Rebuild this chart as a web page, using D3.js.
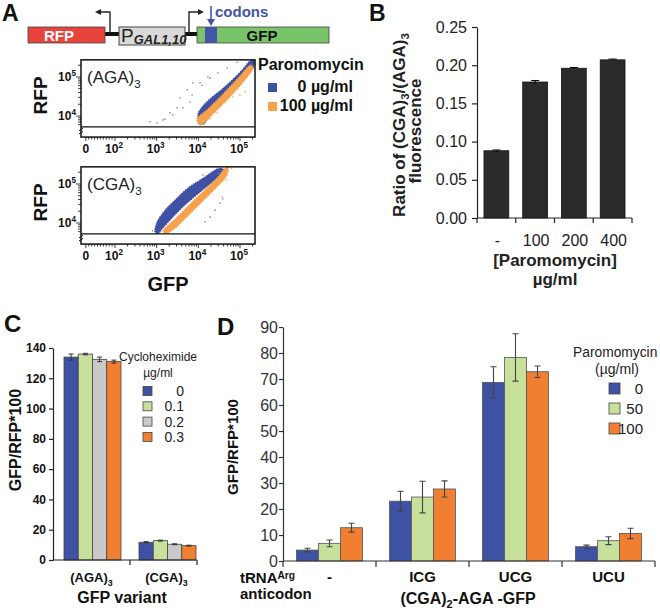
<!DOCTYPE html>
<html><head><meta charset="utf-8">
<script src="https://cdn.jsdelivr.net/npm/d3@7/dist/d3.min.js"></script>
<style>
body{margin:0;background:#fff}
svg{display:block}
text{font-family:"Liberation Sans",Arial,Helvetica,sans-serif}
</style>
</head><body>
<svg id="c" width="660" height="610"></svg>
<script>
// ================= DATA =================
// Panel A flow cytometry: axes are log10 display units (GFP on x, RFP on y)
const flowXTicks = [{v:1.3,base:"0",exp:""},{v:2,base:"10",exp:"2"},{v:3,base:"10",exp:"3"},{v:4,base:"10",exp:"4"},{v:5,base:"10",exp:"5"}];
const flowYTicks = [{v:4,base:"10",exp:"4"},{v:5,base:"10",exp:"5"}];
const flowLegend = ["0 µg/ml","100 µg/ml"];
// density clouds (outline of the dense region) and sparse events
const agaBlueCloud = [[4.02,3.79],[3.99,4.05],[4.11,4.26],[4.33,4.49],[4.57,4.69],[4.81,4.92],[5.05,5.18],[5.24,5.41],[5.34,5.44],[5.34,5.28],[5.00,4.87],[4.64,4.41],[4.28,4.00],[4.11,3.79]];
const agaOrangeCloud = [[4.04,3.77],[4.40,4.10],[4.76,4.49],[5.12,4.92],[5.31,5.23],[5.26,5.31],[4.95,4.97],[4.57,4.54],[4.23,4.18],[3.97,3.92]];
const agaBlueDots = [[2.84,3.85],[3.01,3.82],[3.15,3.90],[3.20,3.92],[3.32,4.08],[3.39,4.03],[3.49,4.21],[3.56,4.46],[3.63,4.21],[3.73,4.67],[3.80,4.36],[3.85,4.54],[3.87,4.85],[4.04,4.85],[4.09,4.79],[4.23,5.00],[4.28,4.97],[4.47,5.10],[4.69,5.23],[4.93,5.38]];
const agaOrangeDots = [[4.23,3.95],[4.28,3.92],[4.45,4.08],[4.83,4.49],[5.00,4.54],[5.12,4.62],[4.16,3.79]];
const cgaBlueCloud = [[2.96,3.77],[3.01,4.03],[3.20,4.33],[3.44,4.59],[3.75,4.90],[4.04,5.10],[4.33,5.31],[4.52,5.41],[4.62,5.36],[4.40,5.10],[4.04,4.79],[3.68,4.46],[3.37,4.13],[3.15,3.87],[3.03,3.72]];
const cgaOrangeCloud = [[3.15,3.79],[3.44,4.10],[3.80,4.49],[4.16,4.85],[4.47,5.18],[4.62,5.38],[4.71,5.44],[4.69,5.23],[4.38,4.85],[4.04,4.49],[3.70,4.13],[3.39,3.82],[3.20,3.72]];
const cgaBlueDots = [[4.16,4.03],[4.28,4.15],[4.40,4.33],[4.52,4.51],[4.59,4.62],[4.11,5.23],[4.33,5.31],[4.47,5.28],[2.90,3.80],[3.05,3.75]];
const cgaOrangeDots = [[4.69,5.10],[4.57,4.67],[4.80,5.40]];

// Panel B
const bCategories = ["-","100","200","400"];
const bValues = [0.088,0.178,0.196,0.207];
const bErrors = [0.001,0.002,0.001,0.001];
const bTicks = [0,0.05,0.10,0.15,0.20,0.25];

// Panel C
const cCategories = ["(AGA)","(CGA)"];
const cSeries = ["0","0.1","0.2","0.3"];
const cValues = [[134,136,132.5,131],[11.7,12.8,10.4,9.5]];
const cErrors = [[2,0.5,1.5,1],[0.4,0.3,0.3,0.3]];
const cTicks = [0,20,40,60,80,100,120,140];

// Panel D
const dCategories = ["-","ICG","UCG","UCU"];
const dSeries = ["0","50","100"];
const dValues = [[4.2,6.8,12.8],[23.0,24.6,27.7],[68.7,78.3,72.8],[5.5,7.8,10.6]];
const dErrors = [[0.7,1.3,1.7],[3.8,6.1,3.1],[6.0,9.1,2.2],[0.6,1.5,2.0]];
const dTicks = [0,10,20,30,40,50,60,70,80,90];

// ================= STYLE =================
const BLUE="#3f51a3", ORANGE_L="#f6a24c", GREEN_L="#c7e09c", GRAY_L="#c9c9c9", ORANGE="#f07f32";
const svg = d3.select("#c");

function txt(g, x, y, parts, o={}) {
  const size=o.size||12;
  const t=g.append("text").attr("x",x).attr("y",y)
    .attr("font-size",size).attr("font-weight",o.weight||"normal")
    .attr("font-style",o.style||"normal")
    .attr("text-anchor",o.anchor||"start").attr("fill",o.fill||"#111");
  if(o.rotate) t.attr("transform",`rotate(${o.rotate},${x},${y})`);
  if(typeof parts==="string") parts=[[parts]];
  let shift=0;
  const subK=o.subK||0.32, supK=o.supK||0.42;
  parts.forEach(p=>{
    const [s,kind,extra]=p;
    const ts=t.append("tspan").text(s);
    const target = kind==="sub"? size*subK : kind==="sup"? -size*supK : 0;
    const dy=target-shift; shift=target;
    if(dy) ts.attr("dy",dy);
    if(kind) ts.attr("font-size",size*0.68);
    if(extra) for(const k in extra) ts.attr(k,extra[k]);
  });
  return t;
}

// ================= PANEL A: construct =================
const gA=svg.append("g");
txt(gA,2,21,"A",{size:23,weight:"bold"});
gA.append("rect").attr("x",104).attr("y",32).attr("width",16).attr("height",4).attr("fill","#111");
gA.append("rect").attr("x",184).attr("y",32).attr("width",14).attr("height",4).attr("fill","#111");
gA.append("rect").attr("x",28).attr("y",27).attr("width",77).attr("height",16).attr("fill","#e8443c").attr("stroke","#444").attr("stroke-width",0.8);
txt(gA,59,40.5,"RFP",{size:15,weight:"bold",anchor:"middle",fill:"#fff"});
gA.append("rect").attr("x",119).attr("y",27).attr("width",66).attr("height",18).attr("fill","#d9d9d9").attr("stroke","#444").attr("stroke-width",1);
txt(gA,121,42,[["P"],["GAL1,10","sub",{"font-style":"italic","font-weight":"bold","font-size":13}]],{size:19,fill:"#222",subK:0.12});
gA.append("rect").attr("x",197).attr("y",27).attr("width",132).attr("height",16).attr("fill","#79c468").attr("stroke","#444").attr("stroke-width",0.8);
gA.append("rect").attr("x",205).attr("y",27).attr("width",12).attr("height",16).attr("fill","#4355a8");
txt(gA,262,40.5,"GFP",{size:15,weight:"bold",anchor:"middle",fill:"#111"});
gA.append("path").attr("d","M110,33V12H100").attr("fill","none").attr("stroke","#222").attr("stroke-width",1.4);
gA.append("path").attr("d","M95,12L101,9L101,15Z").attr("fill","#222");
gA.append("path").attr("d","M189,33V12H199").attr("fill","none").attr("stroke","#222").attr("stroke-width",1.4);
gA.append("path").attr("d","M204,12L198,9L198,15Z").attr("fill","#222");
gA.append("path").attr("d","M211,6V21").attr("stroke","#4355a8").attr("stroke-width",1.6);
gA.append("path").attr("d","M211,26L207,19L215,19Z").attr("fill","#4355a8");
txt(gA,215,17,"codons",{size:15,weight:"bold",fill:"#4355a8"});

// ================= PANEL A: flow plots =================
const xF=d3.scaleLinear().domain([2,5]).range([115,240]);
const yF=d3.scaleLinear().domain([4,5]).range([116,77]);
const fBox={u0:1.184,u1:5.36,vTop:5.44,vLine:3.72,vBot:3.46};

function flowPlot(offY,title,blue,orange,bDots,oDots){
  const g=svg.append("g").attr("transform",`translate(0,${offY})`);
  const x0=xF(fBox.u0),x1=xF(fBox.u1),yT=yF(fBox.vTop),yL=yF(fBox.vLine),yB=yF(fBox.vBot);
  const cid="clip"+offY;
  g.append("clipPath").attr("id",cid).append("rect").attr("x",x0).attr("y",yT).attr("width",x1-x0).attr("height",yL-yT);
  const pg=g.append("g").attr("clip-path",`url(#${cid})`);
  const ln=d3.line().x(d=>xF(d[0])).y(d=>yF(d[1])).curve(d3.curveCatmullRomClosed.alpha(0.5));
  pg.append("path").attr("d",ln(blue)).attr("fill",BLUE).attr("stroke",BLUE).attr("stroke-width",1.2).attr("stroke-dasharray","1 1.5");
  pg.append("path").attr("d",ln(orange)).attr("fill",ORANGE_L).attr("stroke",ORANGE_L).attr("stroke-width",1.2).attr("stroke-dasharray","1 1.5");
  pg.selectAll("circle.b").data(bDots).join("circle").attr("cx",d=>xF(d[0])).attr("cy",d=>yF(d[1])).attr("r",0.8).attr("fill","#6a78c0");
  pg.selectAll("circle.o").data(oDots).join("circle").attr("cx",d=>xF(d[0])).attr("cy",d=>yF(d[1])).attr("r",0.8).attr("fill",ORANGE_L);
  g.append("rect").attr("x",x0).attr("y",yT).attr("width",x1-x0).attr("height",yB-yT).attr("fill","none").attr("stroke","#111").attr("stroke-width",1.5);
  g.append("line").attr("x1",x0).attr("x2",x1).attr("y1",yL).attr("y2",yL).attr("stroke","#111").attr("stroke-width",1.3);
  g.append("path").attr("d",`M${x0-2},${yL+4}l4,-2.5M${x0-2},${yL+7}l4,-2.5`).attr("stroke","#111").attr("stroke-width",1);
  const yt=[];
  for(let d=3;d<=5;d++) for(let k=1;k<=9;k++){const v=d+Math.log10(k); if(v>fBox.vLine && v<fBox.vTop) yt.push({v,major:k===1});}
  g.selectAll("line.yt").data(yt).join("line").attr("x1",d=>x0-(d.major?5:3)).attr("x2",x0).attr("y1",d=>yF(d.v)).attr("y2",d=>yF(d.v)).attr("stroke","#111").attr("stroke-width",0.8);
  flowYTicks.forEach(t=>txt(g,76,yF(t.v)+4,[[t.base],[t.exp,"sup"]],{size:12,weight:"bold",anchor:"end"}));
  const xt=[{v:1.3,major:true}];
  for(let k=1;k<=9;k++) xt.push({v:1.3+0.7*k/10,major:false});
  for(let d=2;d<=5;d++) for(let k=1;k<=9;k++){const v=d+Math.log10(k); if(v<fBox.u1) xt.push({v,major:k===1});}
  g.selectAll("line.xt").data(xt).join("line").attr("x1",d=>xF(d.v)).attr("x2",d=>xF(d.v)).attr("y1",yB).attr("y2",d=>yB+(d.major?4:2.5)).attr("stroke","#111").attr("stroke-width",0.8);
  flowXTicks.forEach(t=>txt(g,xF(t.v)+(t.exp?-1:0),yB+16,t.exp?[[t.base],[t.exp,"sup"]]:t.base,{size:12,weight:"bold",anchor:"middle"}));
  txt(g,87,yT+23,[[title[0]],[title[1],"sub"]],{size:17,fill:"#222"});
  txt(g,47,(yT+yL)/2+2,"RFP",{size:19,weight:"bold",anchor:"middle",rotate:-90});
  return g;
}
flowPlot(0,["(AGA)","3"],agaBlueCloud,agaOrangeCloud,agaBlueDots,agaOrangeDots);
flowPlot(107,["(CGA)","3"],cgaBlueCloud,cgaOrangeCloud,cgaBlueDots,cgaOrangeDots);
txt(svg,168,291,"GFP",{size:20,weight:"bold",anchor:"middle"});
txt(svg,258,70,"Paromomycin",{size:16,weight:"bold"});
[BLUE,ORANGE_L].forEach((c,i)=>{
  svg.append("rect").attr("x",268).attr("y",83+i*19).attr("width",9).attr("height",9).attr("fill",c);
  txt(svg,353,92+i*19,flowLegend[i],{size:16,weight:"bold",anchor:"end"});
});

// ================= PANEL B =================
const gB=svg.append("g");
txt(gB,369,21,"B",{size:23,weight:"bold"});
const xB=d3.scaleBand().domain(bCategories).range([477,632]).paddingInner(0.36).paddingOuter(0.18);
const yB=d3.scaleLinear().domain([0,0.25]).range([218,27]);
gB.selectAll("rect.bar").data(bValues).join("rect").attr("x",(d,i)=>xB(bCategories[i])).attr("y",d=>yB(d))
  .attr("width",xB.bandwidth()).attr("height",d=>yB(0)-yB(d)).attr("fill","#2b2b2b").attr("stroke","#111").attr("stroke-width",0.8);
bValues.forEach((v,i)=>{
  const cx=xB(bCategories[i])+xB.bandwidth()/2, e=bErrors[i];
  gB.append("path").attr("d",`M${cx},${yB(v+e)}V${yB(v-e)}M${cx-4},${yB(v+e)}H${cx+4}`).attr("stroke","#000").attr("stroke-width",1);
});
const axB=gB.append("g").attr("transform","translate(477,0)")
  .call(d3.axisLeft(yB).tickValues(bTicks).tickFormat(d3.format(".2f")).tickSize(5).tickSizeOuter(0).tickPadding(5));
axB.selectAll("text").attr("font-size",16).attr("fill","#222").attr("font-family",null);
axB.selectAll("line,path").attr("stroke","#222").attr("stroke-width",1.2);
gB.append("line").attr("x1",477).attr("x2",632).attr("y1",218).attr("y2",218).attr("stroke","#222").attr("stroke-width",1.2);
gB.selectAll("line.xt").data(d3.range(bCategories.length+1)).join("line")
  .attr("x1",i=>477+i*xB.step()).attr("x2",i=>477+i*xB.step()).attr("y1",218).attr("y2",223).attr("stroke","#222").attr("stroke-width",1.2);
bCategories.forEach(c=>txt(gB,xB(c)+xB.bandwidth()/2+1,246,c,{size:16,anchor:"middle",fill:"#222"}));
txt(gB,555,266,"[Paromomycin]",{size:17,weight:"bold",anchor:"middle",fill:"#222"});
txt(gB,555,285,"µg/ml",{size:17,weight:"bold",anchor:"middle",fill:"#222"});
txt(gB,405,125,[["Ratio of (CGA)"],["3","sub"],["/(AGA)"],["3","sub"]],{size:17,weight:"bold",anchor:"middle",rotate:-90,fill:"#222",subK:0.25});
txt(gB,421,131,"fluorescence",{size:17,weight:"bold",anchor:"middle",rotate:-90,fill:"#222"});

// ================= PANEL C =================
const gC=svg.append("g");
txt(gC,4,332,"C",{size:24,weight:"bold"});
const xC=d3.scaleBand().domain(cCategories).range([55,205]).paddingInner(0.24).paddingOuter(0.12);
const xCs=d3.scaleBand().domain(cSeries).range([0,xC.bandwidth()]);
const yC=d3.scaleLinear().domain([0,140]).range([560,348]);
const cColors=[BLUE,GREEN_L,GRAY_L,ORANGE];
cCategories.forEach((cat,ci)=>{
  cSeries.forEach((s,si)=>{
    const v=cValues[ci][si], e=cErrors[ci][si], x=xC(cat)+xCs(s);
    gC.append("rect").attr("x",x).attr("y",yC(v)).attr("width",xCs.bandwidth()).attr("height",yC(0)-yC(v))
      .attr("fill",cColors[si]).attr("stroke","#444").attr("stroke-width",0.8);
    const cx=x+xCs.bandwidth()/2;
    gC.append("path").attr("d",`M${cx},${yC(v+e)}V${yC(v-e)}M${cx-2.5},${yC(v+e)}H${cx+2.5}M${cx-2.5},${yC(v-e)}H${cx+2.5}`).attr("stroke","#333").attr("stroke-width",1);
  });
});
const axC=gC.append("g").attr("transform","translate(53,0)")
  .call(d3.axisLeft(yC).tickValues(cTicks).tickSize(4).tickSizeOuter(0).tickPadding(3));
axC.selectAll("text").attr("font-size",12).attr("font-weight","bold").attr("fill","#111").attr("font-family",null);
axC.selectAll("line,path").attr("stroke","#222").attr("stroke-width",1.2);
gC.append("line").attr("x1",53).attr("x2",197).attr("y1",560).attr("y2",560).attr("stroke","#222").attr("stroke-width",1.2);
[130,197].forEach(x=>gC.append("line").attr("x1",x).attr("x2",x).attr("y1",560).attr("y2",565).attr("stroke","#222").attr("stroke-width",1.2));
cCategories.forEach(c=>txt(gC,xC(c)+xC.bandwidth()/2-1,582,[[c],["3","sub"]],{size:13,weight:"bold",anchor:"middle"}));
txt(gC,122,603,"GFP variant",{size:16,weight:"bold",anchor:"middle"});
txt(gC,21,440,"GFP/RFP*100",{size:16,weight:"bold",anchor:"middle",rotate:-90});
txt(gC,158,361,"Cycloheximide",{size:12,anchor:"middle",fill:"#222"});
txt(gC,158,377,"µg/ml",{size:12,anchor:"middle",fill:"#222"});
cSeries.forEach((s,i)=>{
  const yc=391+i*15.3;
  gC.append("rect").attr("x",143).attr("y",yc-4.5).attr("width",9).attr("height",9).attr("fill",cColors[i]).attr("stroke","#444").attr("stroke-width",0.8);
  txt(gC,184,yc+5,s,{size:14,anchor:"end",fill:"#222"});
});

// ================= PANEL D =================
const gD=svg.append("g");
txt(gD,217,335,"D",{size:24,weight:"bold"});
const xD=d3.scaleBand().domain(dCategories).range([283,655]).paddingInner(0.29).paddingOuter(0.145);
const xDs=d3.scaleBand().domain(dSeries).range([0,xD.bandwidth()]);
const yD=d3.scaleLinear().domain([0,90]).range([561,327]);
const dColors=[BLUE,GREEN_L,ORANGE];
dCategories.forEach((cat,ci)=>{
  dSeries.forEach((s,si)=>{
    const v=dValues[ci][si], e=dErrors[ci][si], x=xD(cat)+xDs(s);
    gD.append("rect").attr("x",x).attr("y",yD(v)).attr("width",xDs.bandwidth()).attr("height",yD(0)-yD(v))
      .attr("fill",dColors[si]).attr("stroke","#555").attr("stroke-width",0.8);
    const cx=x+xDs.bandwidth()/2;
    gD.append("path").attr("d",`M${cx},${yD(v+e)}V${yD(v-e)}M${cx-3},${yD(v+e)}H${cx+3}M${cx-3},${yD(v-e)}H${cx+3}`).attr("stroke","#444").attr("stroke-width",1.1);
  });
});
const axD=gD.append("g").attr("transform","translate(283,0)")
  .call(d3.axisLeft(yD).tickValues(dTicks).tickSize(4).tickSizeOuter(0).tickPadding(1));
axD.selectAll("text").attr("font-size",16).attr("fill","#333").attr("font-family",null);
axD.selectAll("line,path").attr("stroke","#333").attr("stroke-width",1.2);
gD.append("line").attr("x1",283).attr("x2",655).attr("y1",561).attr("y2",561).attr("stroke","#333").attr("stroke-width",1.2);
gD.selectAll("line.xt").data(d3.range(dCategories.length+1)).join("line")
  .attr("x1",i=>283+i*xD.step()).attr("x2",i=>283+i*xD.step()).attr("y1",561).attr("y2",567).attr("stroke","#333").attr("stroke-width",1.2);
dCategories.forEach(c=>txt(gD,xD(c)+xD.bandwidth()/2,582,c,{size:15,weight:"bold",anchor:"middle"}));
txt(gD,240,583,[["tRNA"],["Arg","sup"]],{size:15,weight:"bold",supK:0.3});
txt(gD,240,599,"anticodon",{size:15,weight:"bold"});
txt(gD,468,604,[["(CGA)"],["2","sub"],["-AGA -GFP"]],{size:16,weight:"bold",anchor:"middle",subK:0.22});
txt(gD,238,447,"GFP/RFP*100",{size:15,weight:"bold",anchor:"middle",rotate:-90});
txt(gD,573,357,"Paromomycin",{size:13.8,fill:"#222"});
txt(gD,617,374,"(µg/ml)",{size:14,anchor:"middle",fill:"#222"});
dSeries.forEach((s,i)=>{
  const yt=383+i*20;
  gD.append("rect").attr("x",609).attr("y",yt).attr("width",11).attr("height",11).attr("fill",dColors[i]).attr("stroke","#444").attr("stroke-width",0.8);
  txt(gD,643,yt+11,s,{size:15,anchor:"end",fill:"#222"});
});
</script>
</body></html>
